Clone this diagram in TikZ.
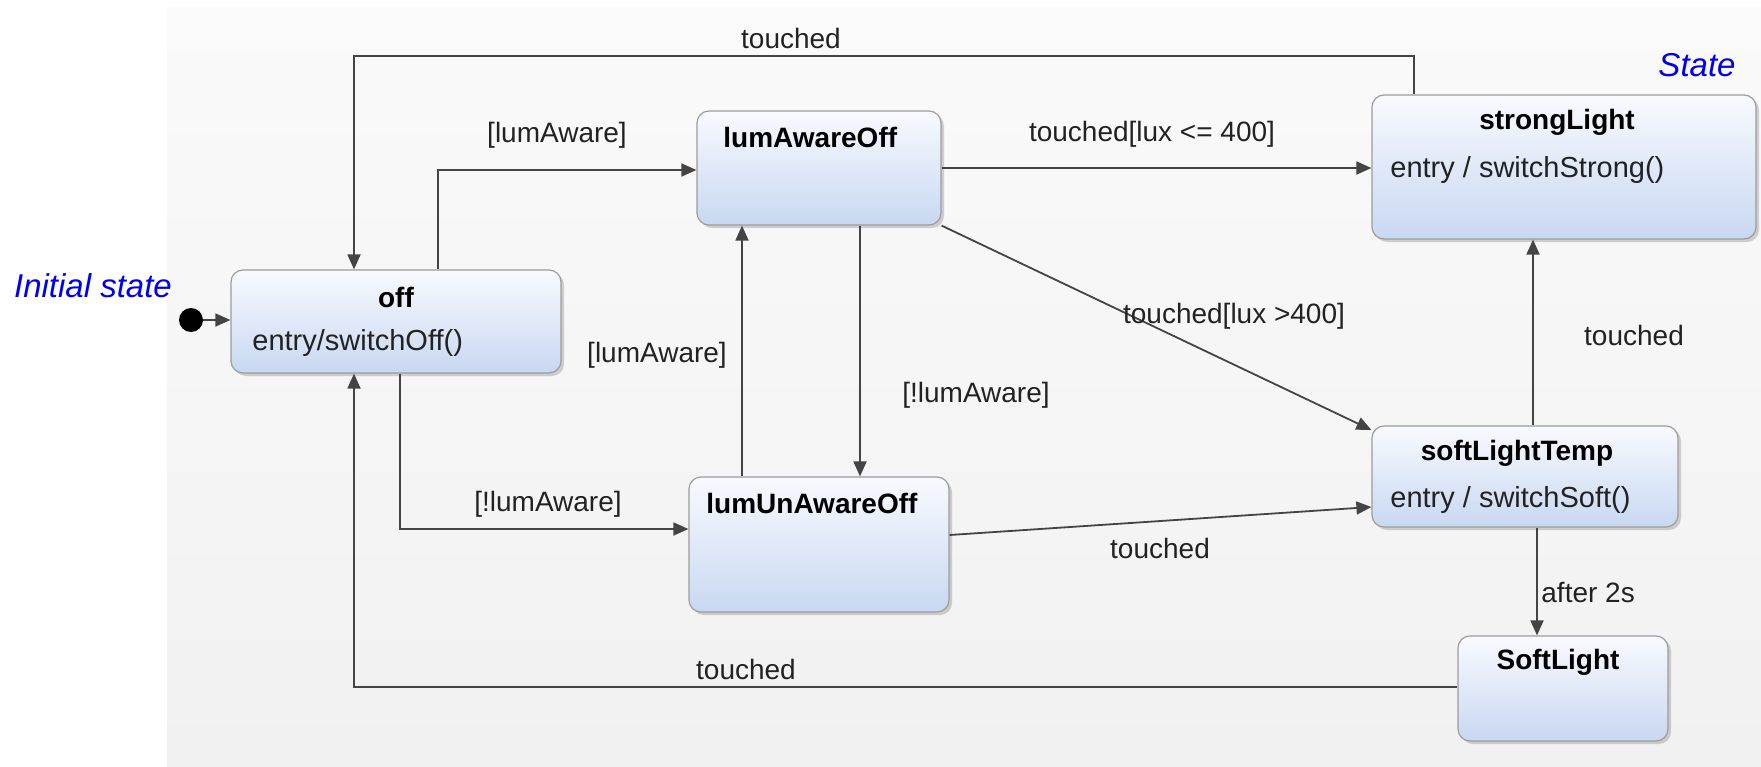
\documentclass[tikz,border=0pt]{standalone}
\usepackage{fontspec}
\setmainfont{Liberation Sans}
\usetikzlibrary{arrows.meta,shadows,calc}
\definecolor{edgec}{HTML}{444444}
\definecolor{boxborder}{HTML}{9C9C9C}
\definecolor{boxtop}{HTML}{F8FAFE}
\definecolor{boxbot}{HTML}{C8D8F1}
\definecolor{labelc}{HTML}{222222}
\definecolor{bgtop}{HTML}{FAFAFA}
\definecolor{bgbot}{HTML}{F1F1F1}
\definecolor{noteblue}{HTML}{0000F0}
\begin{document}
\begin{tikzpicture}[x=0.5pt,y=-0.5pt,
  state/.style={draw=boxborder, line width=0.6pt, rounded corners=6pt,
    top color=boxtop, bottom color=boxbot, inner sep=0pt,
    drop shadow={shadow xshift=1.5pt, shadow yshift=-1.5pt, opacity=0.35}},
  title/.style={font=\fontsize{14}{16}\selectfont\bfseries, text=black, inner sep=1pt},
  entry/.style={font=\fontsize{14.5}{17}\selectfont, text=labelc, inner sep=1pt},
  lbl/.style={font=\fontsize{14}{16}\selectfont, text=labelc, inner sep=1pt},
  note/.style={font=\fontsize{16.5}{19}\selectfont\itshape, text=noteblue, inner sep=1pt},
  arr/.style={draw=edgec, line width=0.9pt, -{Triangle[length=7.5pt,width=6.5pt]}}]
\useasboundingbox (0,0) rectangle (1761,766);
\shade[top color=bgtop, bottom color=bgbot] (167,7) rectangle (1761,766);

% states
\node[state, minimum width=165pt, minimum height=51.5pt] (off) at (396,321.5) {};
\node[state, minimum width=122pt, minimum height=57pt] (law) at (819,168) {};
\node[state, minimum width=192pt, minimum height=72pt] (sl) at (1564,167) {};
\node[state, minimum width=153pt, minimum height=50.5pt] (sft) at (1525,476.5) {};
\node[state, minimum width=130pt, minimum height=67.5pt] (lua) at (819,544.5) {};
\node[state, minimum width=105pt, minimum height=52.5pt] (sfl) at (1563,688.5) {};

% texts in states
\node[title] (off-t) at (396,297) {off};
\node[entry, anchor=west] (off-e) at (250,343) {entry/switchOff()};
\node[title, anchor=west] (law-t) at (721,137) {lumAwareOff};
\node[title] (sl-t) at (1557,122) {strongLight};
\node[entry, anchor=west] (sl-e) at (1388,170) {entry / switchStrong()};
\node[title] (sft-t) at (1517,453) {softLightTemp};
\node[entry, anchor=west] (sft-e) at (1388,500) {entry / switchSoft()};
\node[title, anchor=west] (lua-t) at (704,503) {lumUnAwareOff};
\node[title] (sfl-t) at (1558,662) {SoftLight};

% initial
\node[circle, fill=black, minimum size=12pt, inner sep=0pt] (init) at (191,320) {};

% bend coordinates
\coordinate (t1) at (1414,56);
\coordinate (t2) at (354,56);
\coordinate (b2) at (438,170);
\coordinate (h3) at (0,168);
\coordinate (e4) at (0,430);
\coordinate (v5) at (860,0);
\coordinate (v6) at (742,0);
\coordinate (b7) at (400,529);
\coordinate (h8a) at (0,535);
\coordinate (h8b) at (0,507);
\coordinate (v9) at (1533,0);
\coordinate (v10) at (1537,0);
\coordinate (b11) at (354,687);

% transitions
\draw[arr] (init) -- (off.west |- init);
\draw[arr] (sl.north -| t1) -- (t1) -- (t2) -- (off.north -| t2);
\draw[arr] (off.north -| b2) -- (b2) -- (law.west |- b2);
\draw[arr] (law.east |- h3) -- (sl.west |- h3);
\draw[arr] (law.south east) -- (sft.west |- e4);
\draw[arr] (law.south -| v5) -- (lua.north -| v5);
\draw[arr] (lua.north -| v6) -- (law.south -| v6);
\draw[arr] (off.south -| b7) -- (b7) -- (lua.west |- b7);
\draw[arr] (lua.east |- h8a) -- (sft.west |- h8b);
\draw[arr] (sft.north -| v9) -- (sl.south -| v9);
\draw[arr] (sft.south -| v10) -- (sfl.north -| v10);
\draw[arr] (sfl.west |- b11) -- (b11) -- (off.south -| b11);

% labels
\node[lbl] (l1) at (791,38) {touched};
\node[lbl] (l2) at (557,135) {[lumAware]};
\node[lbl] (l3) at (1152,134) {touched[lux <= 400]};
\node[lbl] (l4) at (1234,316) {touched[lux >400]};
\node[lbl] (l5) at (976,395) {[!lumAware]};
\node[lbl] (l6) at (657,355) {[lumAware]};
\node[lbl] (l7) at (548,504) {[!lumAware]};
\node[lbl] (l8) at (1160,548) {touched};
\node[lbl] (l9) at (1634,335) {touched};
\node[lbl, anchor=west] (l10) at (1539,592) {after 2s};
\node[lbl] (l11) at (746,669) {touched};

\node[note] (n1) at (93,286) {Initial state};
\node[note] (n2) at (1697,65) {State};
\end{tikzpicture}
\end{document}
